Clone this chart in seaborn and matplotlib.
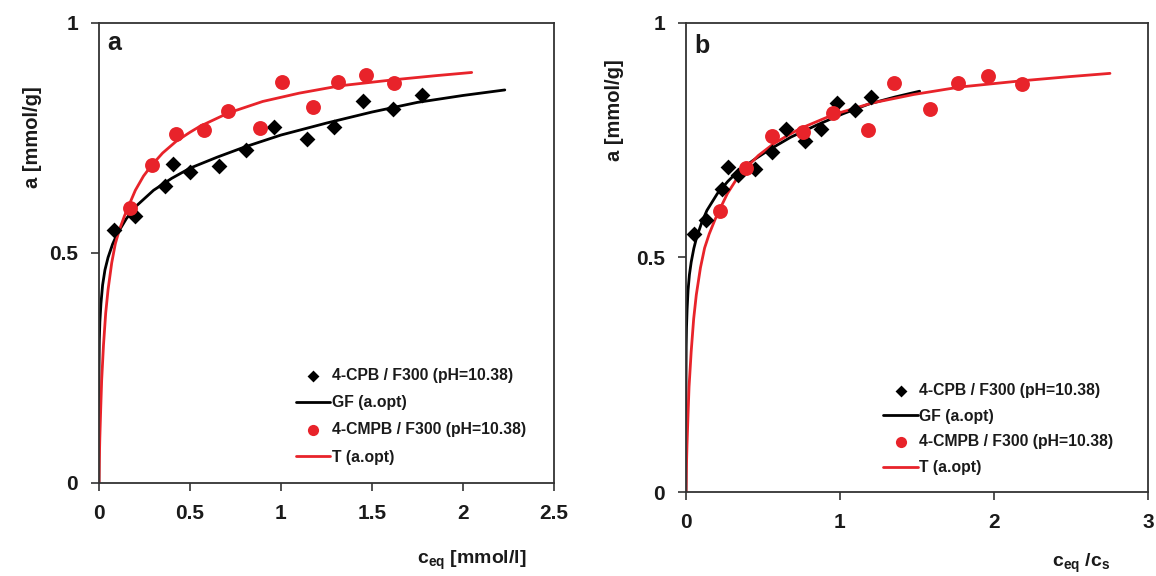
import numpy as np
import pandas as pd
import matplotlib
matplotlib.use("Agg")
import matplotlib.pyplot as plt
import seaborn as sns

# ---------------- data ----------------
# panel a: c_eq [mmol/l]
cpb_c = [0.082, 0.198, 0.363, 0.408, 0.500, 0.661, 0.808, 0.963, 1.141, 1.293, 1.449, 1.614, 1.773]
cpb_a = [0.550, 0.580, 0.646, 0.693, 0.675, 0.688, 0.724, 0.773, 0.748, 0.774, 0.829, 0.813, 0.842]
cmpb_c = [0.170, 0.289, 0.423, 0.577, 0.711, 0.885, 1.004, 1.178, 1.315, 1.465, 1.621]
cmpb_a = [0.598, 0.691, 0.758, 0.767, 0.808, 0.772, 0.871, 0.816, 0.872, 0.886, 0.869]

gf_c = [0, 0.0005, 0.002, 0.005, 0.011, 0.02, 0.033, 0.05, 0.075, 0.1, 0.15, 0.2, 0.3,
        0.4, 0.5, 0.65, 0.8, 1.0, 1.25, 1.5, 1.75, 2.0, 2.23]
gf_a = [0, 0.25, 0.31, 0.35, 0.39, 0.43, 0.463, 0.49, 0.519, 0.541, 0.574, 0.600, 0.636,
        0.662, 0.684, 0.708, 0.730, 0.756, 0.782, 0.806, 0.827, 0.842, 0.854]
t_c = [0, 0.002, 0.005, 0.01, 0.015, 0.025, 0.037, 0.05, 0.07, 0.09, 0.112, 0.14, 0.161,
       0.2, 0.245, 0.289, 0.35, 0.423, 0.5, 0.555, 0.711, 0.9, 1.1, 1.324, 1.617, 1.85, 2.048]
t_a = [0, 0.05, 0.10, 0.165, 0.224, 0.30, 0.369, 0.42, 0.478, 0.52, 0.55, 0.58, 0.60,
       0.636, 0.667, 0.690, 0.717, 0.742, 0.762, 0.775, 0.804, 0.829, 0.847, 0.863, 0.876, 0.885, 0.892]

# panel b: c_eq / c_s
cpb_r = [0.052, 0.128, 0.236, 0.275, 0.340, 0.448, 0.556, 0.651, 0.773, 0.875, 0.982, 1.097, 1.199]
cmpb_r = [0.219, 0.388, 0.560, 0.762, 0.955, 1.184, 1.351, 1.582, 1.768, 1.963, 2.180]
gf_r = [0, 0.0003, 0.0014, 0.0034, 0.0075, 0.0136, 0.0224, 0.034, 0.051, 0.068, 0.102, 0.136,
        0.204, 0.272, 0.340, 0.442, 0.544, 0.680, 0.850, 1.020, 1.190, 1.361, 1.517]
t_r = [0, 0.0027, 0.0067, 0.0134, 0.020, 0.034, 0.050, 0.067, 0.094, 0.121, 0.151, 0.188, 0.216,
       0.269, 0.329, 0.388, 0.470, 0.569, 0.672, 0.746, 0.956, 1.210, 1.478, 1.780, 2.173, 2.487, 2.753]

labels = ["4-CPB / F300 (pH=10.38)", "GF (a.opt)", "4-CMPB / F300 (pH=10.38)", "T (a.opt)"]
xticks_a = [0, 0.5, 1, 1.5, 2, 2.5]
xticklabels_a = ["0", "0.5", "1", "1.5", "2", "2.5"]
xticks_b = [0, 1, 2, 3]
xticklabels_b = ["0", "1", "2", "3"]
yticks = [0, 0.5, 1]
yticklabels = ["0", "0.5", "1"]

# ---------------- style ----------------
sns.set_style("ticks")
plt.rcParams["font.family"] = ["Liberation Sans", "DejaVu Sans"]
plt.rcParams["font.weight"] = "bold"
plt.rcParams["mathtext.fontset"] = "custom"
plt.rcParams["mathtext.rm"] = "Liberation Sans:bold"
plt.rcParams["mathtext.bf"] = "Liberation Sans:bold"
plt.rcParams["mathtext.it"] = "Liberation Sans:bold"

RED = "#e8232a"
BLK = "#000000"
TXT = "#1a1a1a"
SPINE = "#333333"

fig = plt.figure(figsize=(11.56, 5.76), dpi=100)
ax_a = fig.add_axes([0.0856, 0.1615, 0.3936, 0.7990])
ax_b = fig.add_axes([0.5934, 0.1458, 0.3997, 0.8148])


def draw(ax, xs_cpb, xs_cmpb, xs_gf, xs_t):
    sns.scatterplot(x=xs_cpb, y=cpb_a, ax=ax, marker="D", s=65, color=BLK,
                    edgecolor=BLK, linewidth=0, label=labels[0], zorder=3)
    sns.lineplot(x=xs_gf, y=gf_a, ax=ax, color=BLK, lw=2.0, sort=False,
                 estimator=None, label=labels[1], zorder=2)
    sns.scatterplot(x=xs_cmpb, y=cmpb_a, ax=ax, marker="o", s=115, color=RED,
                    edgecolor=RED, linewidth=0, label=labels[2], zorder=3)
    sns.lineplot(x=xs_t, y=t_a, ax=ax, color=RED, lw=2.0, sort=False,
                 estimator=None, label=labels[3], zorder=2)
    ax.set_ylim(0, 1)
    ax.set_yticks(yticks)
    ax.set_yticklabels(yticklabels)
    for sp in ax.spines.values():
        sp.set_visible(True)
        sp.set_color(SPINE)
        sp.set_linewidth(1.3)
    ax.tick_params(axis="both", direction="out", length=6, width=1.2, color=SPINE,
                   labelsize=15, pad=9, labelcolor=TXT)


draw(ax_a, cpb_c, cmpb_c, gf_c, t_c)
draw(ax_b, cpb_r, cmpb_r, gf_r, t_r)

ax_a.set_xlim(0, 2.5)
ax_a.set_xticks(xticks_a)
ax_a.set_xticklabels(xticklabels_a)
ax_b.set_xlim(0, 3)
ax_b.set_xticks(xticks_b)
ax_b.set_xticklabels(xticklabels_b)
for ax in (ax_a, ax_b):
    for lab in ax.get_xticklabels() + ax.get_yticklabels():
        lab.set_fontweight("bold")

# axis labels
ax_a.set_ylabel("a [mmol/g]", fontsize=14.5, fontweight="bold", color=TXT)
ax_a.yaxis.set_label_coords(-0.125, 0.752)
ax_b.set_ylabel("a [mmol/g]", fontsize=14.5, fontweight="bold", color=TXT)
ax_b.yaxis.set_label_coords(-0.134, 0.814)

ax_a.set_xlabel(r"c$_{\mathbf{eq}}$ [mmol/l]", fontsize=14, fontweight="bold", color=TXT)
ax_a.xaxis.set_label_coords(0.82, -0.144)
ax_b.set_xlabel(r"c$_{\mathbf{eq}}$ /c$_{\mathbf{s}}$", fontsize=14, fontweight="bold", color=TXT)
ax_b.xaxis.set_label_coords(0.855, -0.128)

# panel letters
ax_a.text(0.0176, 0.955, "a", transform=ax_a.transAxes, fontsize=18, fontweight="bold",
          ha="left", va="center", color=TXT)
ax_b.text(0.0173, 0.951, "b", transform=ax_b.transAxes, fontsize=18, fontweight="bold",
          ha="left", va="center", color=TXT)

# legends
for ax, anchor, ls in ((ax_a, (0.432, 0.25), 0.78), (ax_b, (0.427, 0.232), 0.68)):
    leg = ax.legend(loc="upper left", bbox_to_anchor=anchor, frameon=False,
                    fontsize=11.3, handlelength=2.2, handletextpad=0.1,
                    labelspacing=ls, borderpad=0, borderaxespad=0, markerscale=0.75)
    for t in leg.get_texts():
        t.set_fontweight("bold")
        t.set_color(TXT)

fig.savefig("out.png", dpi=100)
